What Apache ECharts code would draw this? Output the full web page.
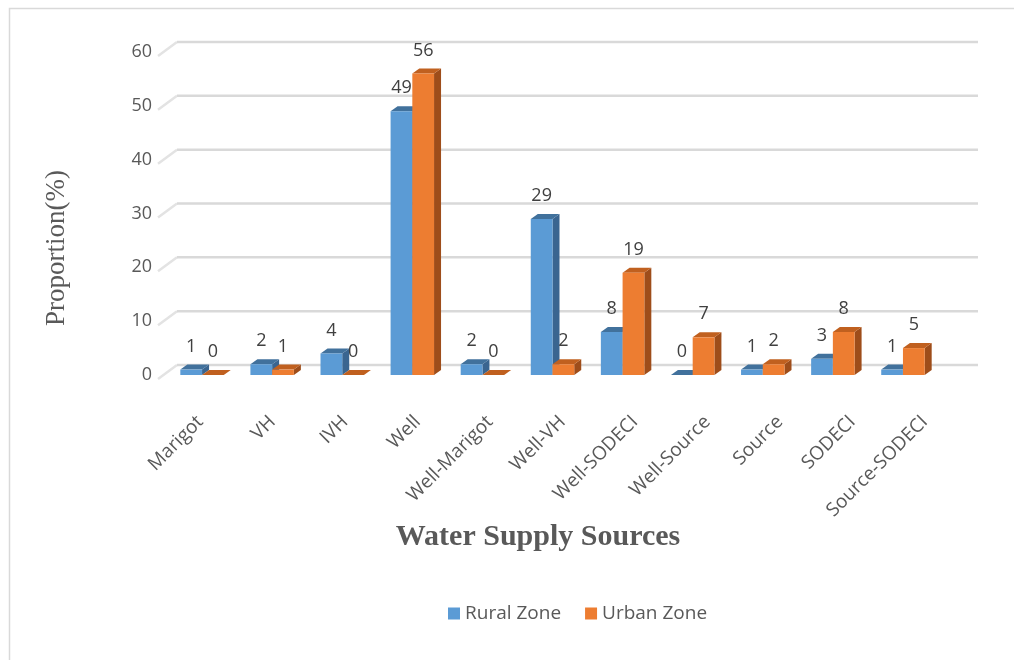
<!DOCTYPE html>
<html>
<head>
<meta charset="utf-8">
<script src="https://cdn.jsdelivr.net/npm/echarts@6/dist/echarts.min.js"></script>
<style>
  html, body { margin: 0; padding: 0; background: #fff; }
  #chart { width: 1014px; height: 660px; }
</style>
</head>
<body>
<div id="chart"></div>
<script>
  // data
  var categories = ['Marigot', 'VH', 'IVH', 'Well', 'Well-Marigot', 'Well-VH',
    'Well-SODECI', 'Well-Source', 'Source', 'SODECI', 'Source-SODECI'];
  var rural = [1, 2, 4, 49, 2, 29, 8, 0, 1, 3, 1];
  var urban = [0, 1, 0, 56, 0, 2, 19, 7, 2, 8, 5];
  var yTicks = [0, 10, 20, 30, 40, 50, 60];

  var font = '"Open Sans", sans-serif';
  var depthX = 7, depthY = 5;

  // 3d-ish bar: front face, right side, top face
  function bar3d(side, front, sideCol, topCol) {
    return function (params, api) {
      var idx = api.value(0);
      var val = api.value(1);
      var top = api.coord([idx, val]);
      var base = api.coord([idx, 0]);
      var w = api.size([1, 0])[0] * 0.31;
      var x0 = side < 0 ? top[0] - w : top[0];
      var x1 = x0 + w;
      var y0 = top[1], y1 = base[1];
      return {
        type: 'group',
        children: [
          { type: 'polygon', shape: { points: [[x1, y1], [x1 + depthX, y1 - depthY], [x1 + depthX, y0 - depthY], [x1, y0]] },
            style: { fill: sideCol } },
          { type: 'polygon', shape: { points: [[x0, y0], [x0 + depthX, y0 - depthY], [x1 + depthX, y0 - depthY], [x1, y0]] },
            style: { fill: topCol } },
          { type: 'rect', shape: { x: x0, y: y0, width: w, height: y1 - y0 },
            style: { fill: front } },
          { type: 'text', style: { text: String(val), x: (x0 + x1) / 2, y: y0 - 23,
            align: 'center', verticalAlign: 'middle', fill: '#404040', fontSize: 18, fontFamily: font } }
        ]
      };
    };
  }

  var chart = echarts.init(document.getElementById('chart'));
  chart.setOption({
    animation: false,
    graphic: [
      { type: 'rect', left: 7, top: 6, z: -10,
        shape: { width: 1030, height: 680 },
        style: { fill: 'none', stroke: '#d9d9d9', lineWidth: 1.5 } },
      { type: 'text', x: 57, y: 248, rotation: Math.PI / 2,
        style: { text: 'Proportion(%)', align: 'center', verticalAlign: 'middle',
          fontFamily: '"Liberation Serif", serif', fontSize: 27, fill: '#595959' } }
    ],
    title: [
      { text: 'Water Supply Sources', left: 533, top: 517, textAlign: 'center',
        textStyle: { fontFamily: '"Liberation Serif", serif', fontSize: 30, fontWeight: 'bold', color: '#595959' } }
    ],
    legend: {
      left: 443, top: 599, icon: 'rect', itemWidth: 12, itemHeight: 12, itemGap: 24,
      textStyle: { fontFamily: font, fontSize: 19, color: '#595959' },
      data: ['Rural Zone', 'Urban Zone']
    },
    grid: [
      { left: 167, right: 76, top: 52, bottom: 285 },
      // floor front edge, where the category names sit
      { left: 164, right: 53, top: 52, bottom: 285 }
    ],
    xAxis: [
      { type: 'category', data: categories, gridIndex: 0,
        axisLine: { show: false }, axisTick: { show: false }, axisLabel: { show: false } },
      { type: 'category', data: categories, gridIndex: 1,
        axisLine: { show: false }, axisTick: { show: false },
        axisLabel: { rotate: 45, margin: 44, interval: 0, fontFamily: font, fontSize: 19, color: '#595959' } }
    ],
    yAxis: [
      { type: 'value', min: 0, max: 60, interval: 10, gridIndex: 0,
        axisLine: { show: false }, axisTick: { show: false }, splitLine: { show: false },
        axisLabel: { margin: 15, fontFamily: font, fontSize: 18, color: '#595959' } },
      { type: 'value', min: 0, max: 60, interval: 10, gridIndex: 1, show: false }
    ],
    series: [
      {
        type: 'custom', silent: true, z: 1,
        data: yTicks.map(function (v) { return [0, v]; }),
        renderItem: function (params, api) {
          var cs = params.coordSys;
          var y = api.coord([0, api.value(1)])[1];
          return {
            type: 'group',
            children: [
              { type: 'line', shape: { x1: cs.x - 9, y1: y + 4, x2: cs.x + 10, y2: y - 10 },
                style: { stroke: '#e3e3e3', lineWidth: 2.5 } },
              { type: 'line', shape: { x1: cs.x + 10, y1: y - 10, x2: cs.x + cs.width + 40, y2: y - 10 },
                style: { stroke: '#d9d9d9', lineWidth: 2.5 } }
            ]
          };
        }
      },
      {
        name: 'Rural Zone', type: 'custom', z: 2,
        itemStyle: { color: '#5b9bd5' },
        data: rural.map(function (v, i) { return [i, v]; }),
        renderItem: bar3d(-1, '#5b9bd5', '#3a6590', '#41719c')
      },
      {
        name: 'Urban Zone', type: 'custom', z: 3,
        itemStyle: { color: '#ed7d31' },
        data: urban.map(function (v, i) { return [i, v]; }),
        renderItem: bar3d(1, '#ed7d31', '#9e4d1a', '#c0601f')
      }
    ]
  });
</script>
</body>
</html>
